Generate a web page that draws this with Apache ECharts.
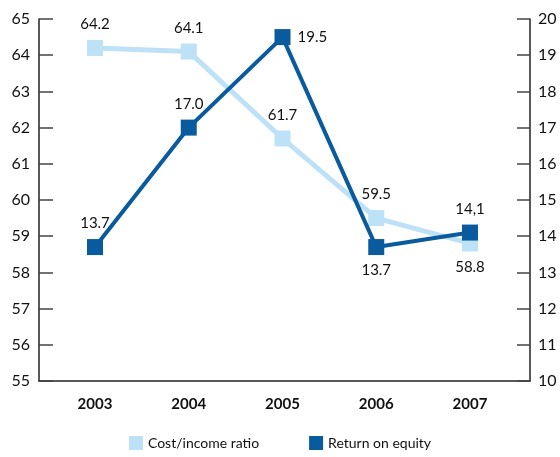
<!DOCTYPE html>
<html>
<head>
<meta charset="utf-8">
<script src="https://cdn.jsdelivr.net/npm/echarts@6/dist/echarts.min.js"></script>
<style>html,body{margin:0;padding:0;background:#fff}#c{width:560px;height:457px}</style>
</head>
<body>
<div id="c"></div>
<script>
const years = [2003, 2004, 2005, 2006, 2007];
const costIncome = [64.2, 64.1, 61.7, 59.5, 58.8];
const returnOnEquity = [13.7, 17.0, 19.5, 13.7, 14.1];
const costLabels = ['64.2', '64.1', '61.7', '59.5', '58.8'];
const roeLabels = ['13.7', '17.0', '19.5', '13.7', '14,1'];
const leftTicks = [55, 65, 1];
const rightTicks = [10, 20, 1];

const costPos = ['top', 'top', 'top', 'top', 'bottom'];
const roePos = ['top', 'top', 'right', 'bottom', 'top'];
const FONT = 'Lato';
const LIGHT = '#bde1f7';
const DARK = '#0a5a9e';

const chart = echarts.init(document.getElementById('c'), null, {renderer: 'canvas'});
function pts(vals, labels, pos) {
  return vals.map((v, i) => ({
    value: [years[i], v],
    label: {show: true, position: pos[i], formatter: labels[i], distance: pos[i] === 'right' ? 7 : 8}
  }));
}
chart.setOption({
  animation: false,
  textStyle: {fontFamily: FONT},
  grid: {left: 39, right: 30, top: 19, bottom: 76, containLabel: false},
  legend: {
    bottom: 2, left: 'center', itemWidth: 14, itemHeight: 14, itemGap: 50, icon: 'rect',
    textStyle: {fontFamily: FONT, fontSize: 14, color: '#111'},
    data: ['Cost/income ratio', 'Return on equity']
  },
  xAxis: {
    type: 'value', min: 2002.4027, max: 2007.64,
    axisLine: {show: true, lineStyle: {color: '#222', width: 1.5}},
    axisTick: {show: false},
    splitLine: {show: false},
    axisLabel: {customValues: years, formatter: v => String(Math.round(v)), fontFamily: FONT, fontWeight: 'bold', fontSize: 15, color: '#111', margin: 16}
  },
  yAxis: [
    {type: 'value', min: leftTicks[0], max: leftTicks[1], interval: leftTicks[2], position: 'left',
     axisLine: {show: true, lineStyle: {color: '#222', width: 1.5}},
     axisTick: {show: true, inside: true, length: 14, lineStyle: {color: '#444', width: 1.5}},
     splitLine: {show: false},
     axisLabel: {fontFamily: FONT, fontSize: 16, color: '#111', margin: 9}},
    {type: 'value', min: rightTicks[0], max: rightTicks[1], interval: rightTicks[2], position: 'right',
     axisLine: {show: true, lineStyle: {color: '#222', width: 1.5}},
     axisTick: {show: true, inside: true, length: 13, lineStyle: {color: '#444', width: 1.5}},
     splitLine: {show: false},
     axisLabel: {fontFamily: FONT, fontSize: 16, color: '#111', margin: 8}}
  ],
  series: [
    {name: 'Cost/income ratio', type: 'line', yAxisIndex: 0, z: 2,
     data: pts(costIncome, costLabels, costPos),
     symbol: 'rect', symbolSize: 16,
     lineStyle: {color: LIGHT, width: 5},
     itemStyle: {color: LIGHT},
     label: {fontFamily: FONT, fontSize: 15, color: '#111'}},
    {name: 'Return on equity', type: 'line', yAxisIndex: 1, z: 3,
     data: pts(returnOnEquity, roeLabels, roePos),
     symbol: 'rect', symbolSize: 16,
     lineStyle: {color: DARK, width: 4},
     itemStyle: {color: DARK},
     label: {fontFamily: FONT, fontSize: 15, color: '#111'}}
  ]
});
</script>
</body>
</html>
